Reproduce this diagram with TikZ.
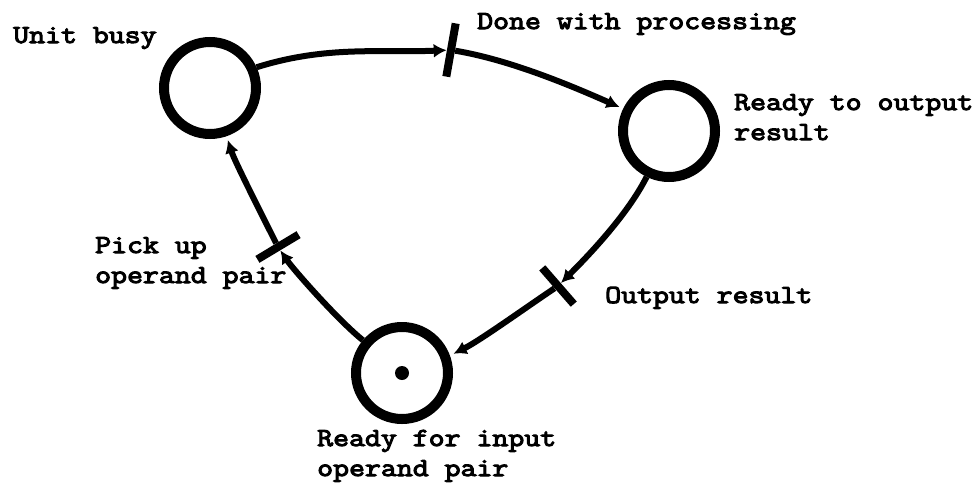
\documentclass[tikz,border=0pt]{standalone}
\usepackage{fontspec}
\newfontfamily\tw{Latin Modern Mono}[FakeBold=4,FakeStretch=1.19]
\usetikzlibrary{arrows.meta}
\begin{document}
\begin{tikzpicture}[x=1pt,y=-1pt,
  place/.style={circle,draw=black,line width=10pt,minimum size=92pt,inner sep=0pt},
  trans/.style={rectangle,fill=black,minimum width=50pt,minimum height=8pt,inner sep=0pt},
  tok/.style={circle,fill=black,minimum size=14pt,inner sep=0pt},
  arc/.style={line width=6pt,-{Latex[length=13pt,width=14pt]}},
  lbl/.style={font=\tw\fontsize{26}{30}\selectfont,anchor=base west,align=left,inner sep=0pt}]
\useasboundingbox[fill=white] (0,0) rectangle (974,485);
% places
\node[place] (p1) at (210,88) {};
\node[place] (p2) at (669,131) {};
\node[place] (p3) at (402,373) {};
\node[tok] (tk) at (p3.center) {};
% transitions
\node[trans,rotate=80,minimum width=54pt] (t1) at (451,50) {};
\node[trans,rotate=-49,minimum width=48pt] (t2) at (558,286) {};
\node[trans,rotate=31,minimum width=48pt] (t3) at (278,247) {};
% arcs
\draw[arc] (p1.24) .. controls +(70,-22) and +(-70,3) .. (t1);
\draw[arc,shorten >=4pt] (t1) .. controls +(60,10) and +(-50,-22) .. (p2.154);
\draw[arc] (p2.244) .. controls +(-20,40) and +(25,-25) .. (t2);
\draw[arc,shorten >=4pt] (t2) .. controls +(-30,20) and +(30,-15) .. (p3.20);
\draw[arc] (p3.140) .. controls +(-25,-20) and +(15,22) .. (t3);
\draw[arc,shorten >=4pt] (t3) .. controls +(-15,-30) and +(8,25) .. (p1.289);
% labels (multi-line nodes: base = last line)
\node[lbl] (lub) at (13,43) {Unit busy};
\node[lbl] (ldp) at (477,29) {Done with processing};
\node[lbl] (lro) at (734,140) {Ready to output\\result};
\node[lbl] (lpu) at (95,283) {Pick up\\operand pair};
\node[lbl] (lor) at (605,303) {Output result};
\node[lbl] (lri) at (317,476) {Ready for input\\operand pair};
\end{tikzpicture}
\end{document}
